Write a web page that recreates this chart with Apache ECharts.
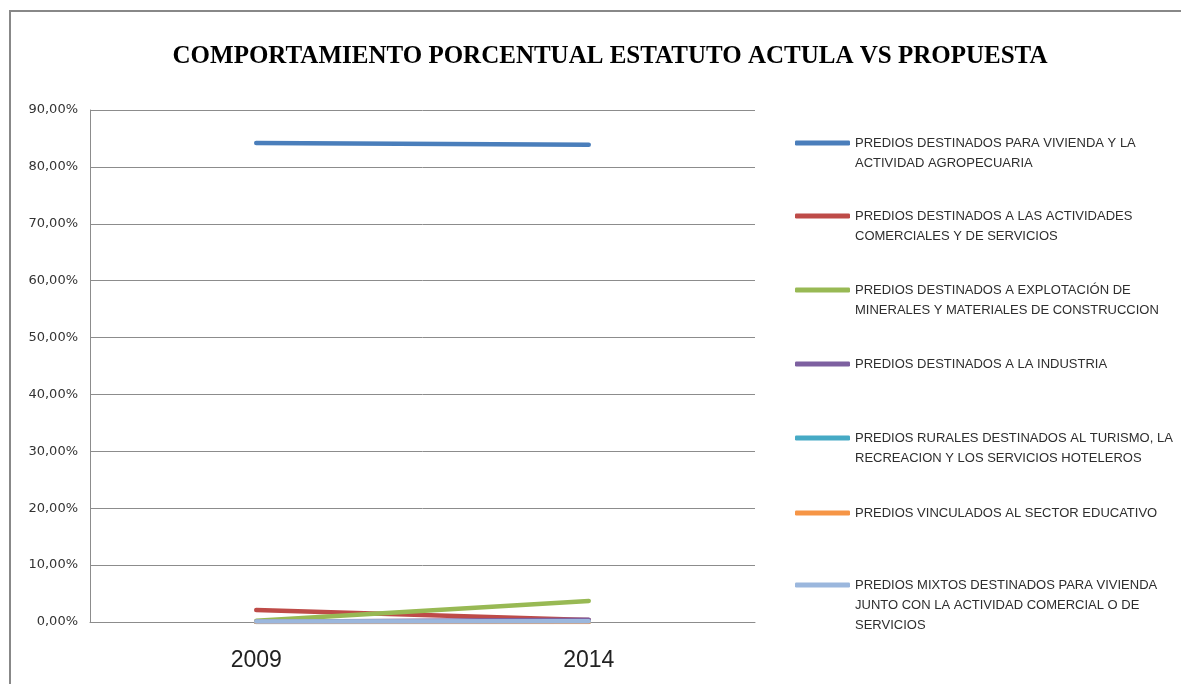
<!DOCTYPE html>
<html>
<head>
<meta charset="utf-8">
<script src="https://cdn.jsdelivr.net/npm/echarts@6/dist/echarts.min.js"></script>
<style>html,body{margin:0;padding:0;background:#fff}#c{width:1181px;height:684px}</style>
</head>
<body>
<div id="c"></div>
<script>
const title = 'COMPORTAMIENTO PORCENTUAL ESTATUTO ACTULA VS PROPUESTA';
const categories = ['2009', '2014'];
const yTicks = [0, 10, 20, 30, 40, 50, 60, 70, 80, 90];
const seriesNames = [
  'PREDIOS DESTINADOS PARA VIVIENDA Y LA\nACTIVIDAD AGROPECUARIA',
  'PREDIOS DESTINADOS A LAS ACTIVIDADES\nCOMERCIALES Y DE SERVICIOS',
  'PREDIOS DESTINADOS A EXPLOTACIÓN DE\nMINERALES Y MATERIALES DE CONSTRUCCION',
  'PREDIOS DESTINADOS A LA INDUSTRIA',
  'PREDIOS RURALES DESTINADOS AL TURISMO, LA\nRECREACION Y LOS SERVICIOS HOTELEROS',
  'PREDIOS VINCULADOS AL SECTOR EDUCATIVO',
  'PREDIOS MIXTOS DESTINADOS PARA VIVIENDA\nJUNTO CON LA ACTIVIDAD COMERCIAL O DE\nSERVICIOS'
];
const vivienda = [84.2, 83.9];
const comerciales = [2.1, 0.35];
const minerales = [0.2, 3.7];
const industria = [0.05, 0.4];
const turismo = [0.02, 0.05];
const educativo = [0.01, 0.02];
const mixtos = [0.1, 0.15];
const seriesValues = [vivienda, comerciales, minerales, industria, turismo, educativo, mixtos];
const colors = ['#4a7ebb', '#be4b48', '#98b954', '#7d60a0', '#46aac5', '#f69546', '#9bb7dd'];

const legendRowY = [143, 216, 290, 364, 438, 513, 585];
const lineH = 20;

const chart = echarts.init(document.getElementById('c'));
const legends = seriesNames.map((name, i) => {
  const n = name.split('\n').length;
  const h = (2 * n - 1) * lineH;
  return {
    data: [name],
    orient: 'vertical',
    left: 795,
    top: legendRowY[i] - h / 2,
    itemWidth: 55,
    itemHeight: 5,
    itemGap: 5,
    icon: 'roundRect',
    selectedMode: false,
    padding: 0,
    formatter: (nm) => '\n'.repeat(n - 1) + nm,
    textStyle: {
      fontFamily: 'Liberation Sans Narrow, Liberation Sans, sans-serif',
      fontSize: 13,
      color: '#2e2e2e',
      lineHeight: lineH
    }
  };
});

chart.setOption({
  animation: false,
  backgroundColor: '#fff',
  title: {
    text: title,
    left: 605,
    textAlign: 'center',
    top: 39,
    textStyle: {
      fontFamily: 'Liberation Serif, serif',
      fontWeight: 'bold',
      fontSize: 25,
      color: '#000'
    }
  },
  graphic: [{
    type: 'rect',
    shape: { x: 10, y: 11, width: 1200, height: 700 },
    style: { fill: 'none', stroke: '#888', lineWidth: 2 },
    silent: true
  }],
  legend: legends,
  grid: { left: 90, right: 1181 - 755, top: 110, bottom: 684 - 622 },
  xAxis: {
    type: 'category',
    data: categories,
    boundaryGap: true,
    axisLine: { lineStyle: { color: '#8c8c8c', width: 1 } },
    axisTick: { show: false },
    axisLabel: {
      fontFamily: 'Liberation Sans, sans-serif',
      fontSize: 23,
      color: '#222',
      margin: 27
    }
  },
  yAxis: {
    type: 'value',
    min: yTicks[0],
    max: yTicks[yTicks.length - 1],
    interval: 10,
    axisLine: { show: true, lineStyle: { color: '#8c8c8c', width: 1 } },
    axisTick: { show: false },
    splitLine: { lineStyle: { color: '#8c8c8c', width: 1 } },
    axisLabel: {
      fontFamily: 'DejaVu Sans, Verdana, sans-serif',
      fontSize: 13,
      color: '#333',
      margin: 12,
      formatter: (v) => v.toFixed(2).replace('.', ',') + '%'
    }
  },
  series: seriesNames.map((name, i) => ({
    name: name,
    type: 'line',
    data: seriesValues[i],
    symbol: 'none',
    color: colors[i],
    lineStyle: { width: 4.5, color: colors[i], cap: 'round' },
    z: 3 + i
  }))
});
</script>
</body>
</html>
